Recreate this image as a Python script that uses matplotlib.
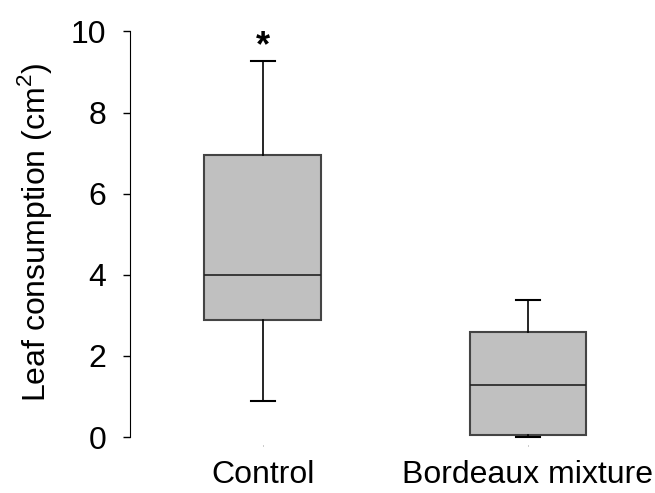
import matplotlib
matplotlib.use("Agg")
import matplotlib.pyplot as plt

plt.rcParams['font.family'] = ['Liberation Sans', 'DejaVu Sans']
plt.rcParams['mathtext.fontset'] = 'custom'
plt.rcParams['mathtext.rm'] = 'Liberation Sans'

groups = ["Control", "Bordeaux mixture"]
whisker_low = [0.9, 0.0]
q1 = [2.88, 0.05]
median = [4.0, 1.28]
q3 = [6.95, 2.58]
whisker_high = [9.28, 3.38]
star_y = 9.62

stats = []
for i in range(len(groups)):
    stats.append({"label": groups[i], "whislo": whisker_low[i], "q1": q1[i],
                  "med": median[i], "q3": q3[i], "whishi": whisker_high[i],
                  "fliers": []})

fig = plt.figure(figsize=(6.55, 4.93), dpi=100)
ax = fig.add_axes([0.198, 0.097, 0.785, 0.864])

ax.bxp(stats, positions=[1, 2], widths=0.44, capwidths=0.09, patch_artist=True,
       boxprops=dict(facecolor='#c0c0c0', edgecolor='#444444', linewidth=1.5),
       medianprops=dict(color='#222222', linewidth=1.2),
       whiskerprops=dict(color='black', linewidth=1.2),
       capprops=dict(color='black', linewidth=1.5))

ax.text(1, star_y, "*", ha='center', va='center', fontsize=26, fontweight='bold')

ax.set_xlim(0.499, 2.437)
ax.set_ylim(-0.2, 10.3)
ax.set_yticks([0, 2, 4, 6, 8, 10])
ax.set_ylabel(r"Leaf consumption (cm$^\mathrm{2}$)", fontsize=23, labelpad=12)

for s in ['top', 'right', 'bottom']:
    ax.spines[s].set_visible(False)
ax.spines['left'].set_bounds(0, 10)
ax.tick_params(axis='y', labelsize=23, length=5, width=1, pad=12)
ax.tick_params(axis='x', labelsize=23, length=1, width=0.6, color='#888888', pad=10)

fig.savefig("out.png", dpi=100)
